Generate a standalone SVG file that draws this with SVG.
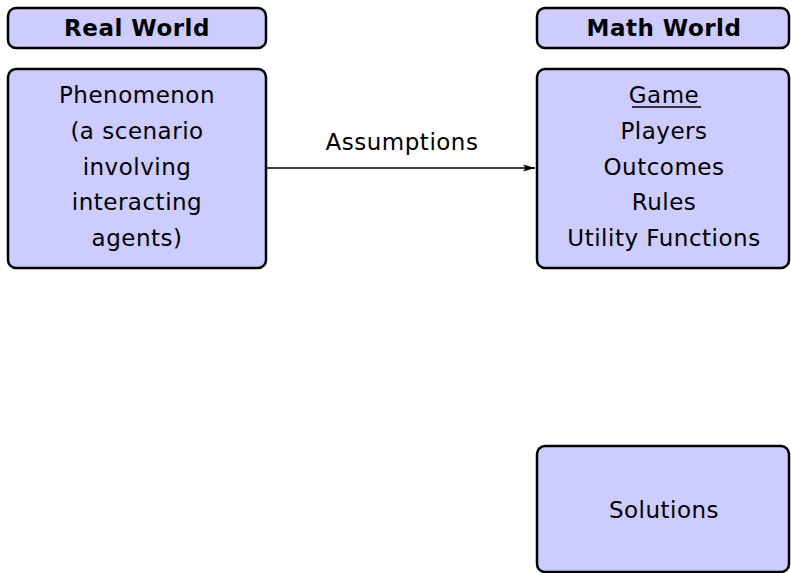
<svg xmlns="http://www.w3.org/2000/svg" width="791" height="573" viewBox="0 0 791 573">
<style>
.box{fill:#ccccff;stroke:#000;stroke-width:2.5}
.t{font-family:"DejaVu Sans",sans-serif;font-size:23px;letter-spacing:0.5px;fill:#000;text-anchor:middle}
.h{font-family:"DejaVu Sans",sans-serif;font-size:23px;letter-spacing:0.5px;font-weight:bold;fill:#000;text-anchor:middle}
</style>
<defs>
<marker id="arr" viewBox="0 0 12 8" refX="12" refY="4" markerWidth="12" markerHeight="8" markerUnits="userSpaceOnUse" orient="auto">
<path d="M0,0.5 L12,4 L0,7.5 L2.5,4 Z" fill="#000"/>
</marker>
</defs>
<rect width="791" height="573" fill="#fff"/>
<g id="real-world">
<rect class="box" x="8" y="8" width="258" height="40" rx="8"/>
<text class="h" x="137" y="36">Real World</text>
</g>
<g id="math-world">
<rect class="box" x="537" y="8" width="252" height="40" rx="8"/>
<text class="h" x="664" y="36">Math World</text>
</g>
<g id="phenomenon">
<rect class="box" x="8" y="69" width="258" height="199" rx="8"/>
<text class="t" x="137" y="103">Phenomenon</text>
<text class="t" x="137" y="139">(a scenario</text>
<text class="t" x="137" y="175">involving</text>
<text class="t" x="137" y="210">interacting</text>
<text class="t" x="137" y="246">agents)</text>
</g>
<g id="game">
<rect class="box" x="537" y="69" width="252" height="199" rx="8"/>
<text class="t" x="664" y="103">Game</text>
<line x1="632" y1="107" x2="701" y2="107" stroke="#000" stroke-width="1.3"/>
<text class="t" x="664" y="139">Players</text>
<text class="t" x="664" y="175">Outcomes</text>
<text class="t" x="664" y="210">Rules</text>
<text class="t" x="664" y="246">Utility Functions</text>
</g>
<g id="solutions">
<rect class="box" x="537" y="446" width="252" height="126" rx="8"/>
<text class="t" x="664" y="518">Solutions</text>
</g>
<g id="connectors">
<line x1="266" y1="168" x2="535" y2="168" stroke="#000" stroke-width="1.5" marker-end="url(#arr)"/>
<text class="t" x="402" y="150">Assumptions</text>
</g>
</svg>
